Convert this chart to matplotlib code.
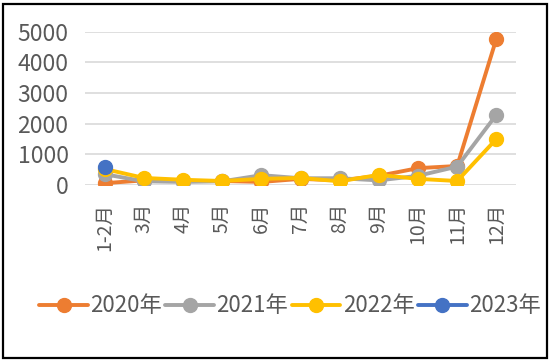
import matplotlib
matplotlib.use("Agg")
import matplotlib.pyplot as plt
from matplotlib.patches import Rectangle

plt.rcParams['font.family'] = ['Noto Sans CJK SC', 'DejaVu Sans']
plt.rcParams['font.weight'] = 'light'

months = ["1-2月", "3月", "4月", "5月", "6月", "7月", "8月", "9月", "10月", "11月", "12月"]
v2020 = [60, 150, 130, 130, 100, 200, 150, 300, 550, 620, 4770]
v2021 = [350, 120, 100, 120, 320, 220, 220, 150, 300, 600, 2290]
v2022 = [520, 230, 170, 130, 200, 230, 120, 330, 200, 130, 1500]
v2023 = [590]

series = [
    ("2020年", v2020, "#ED7D31"),
    ("2021年", v2021, "#A5A5A5"),
    ("2022年", v2022, "#FFC000"),
    ("2023年", v2023, "#4472C4"),
]

fig = plt.figure(figsize=(5.5, 3.62), dpi=100)
ax = fig.add_axes([0.155, 0.489, 0.783, 0.423])

x = list(range(len(months)))
for name, vals, col in series:
    ax.plot(x[:len(vals)], vals, color=col, lw=2.8, marker="o", ms=10,
            solid_capstyle="round", label=name)

ax.set_xlim(-0.5, len(months) - 0.5)
ax.set_ylim(0, 5000)
ax.set_yticks([0, 1000, 2000, 3000, 4000, 5000])
ax.set_xticks(x)
ax.set_xticklabels(months, rotation=90)
ax.grid(axis="y", color="#D9D9D9", lw=1.2)
ax.set_axisbelow(True)
for s in ax.spines.values():
    s.set_visible(False)
ax.tick_params(axis="both", length=0, colors="#595959")
ax.tick_params(axis="y", labelsize=16.5, pad=12)
ax.tick_params(axis="x", labelsize=14, pad=13)

fig.legend(loc="center", bbox_to_anchor=(0.527, 0.155), ncol=4, frameon=False,
           fontsize=16, handlelength=2.2, columnspacing=0.15, handletextpad=0.1,
           labelcolor="#595959")

fig.patches.append(Rectangle((0.006, 0.012), 0.988, 0.976, transform=fig.transFigure,
                             fill=False, edgecolor="black", lw=1.6))

fig.savefig("out.png", dpi=100)
